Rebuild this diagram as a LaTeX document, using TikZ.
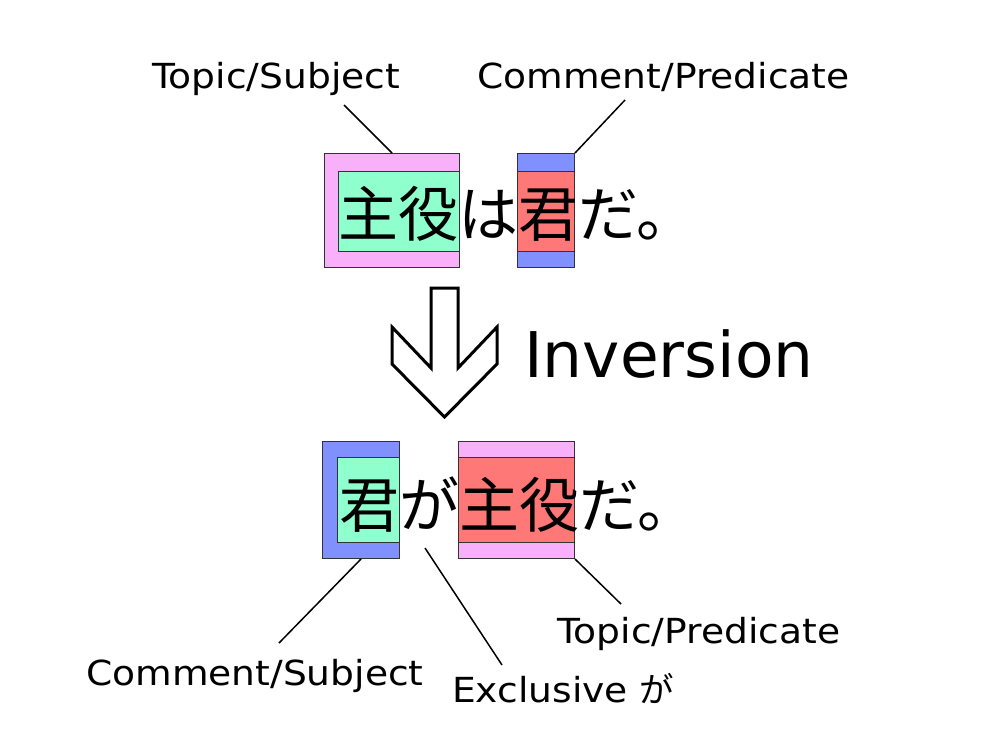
\documentclass[tikz,border=0pt]{standalone}
\usepackage{fontspec}
\setmainfont{DejaVu Sans}
\newfontfamily\jp{Noto Sans CJK JP}
\newfontfamily\lblfont[FakeStretch=1.09]{DejaVu Sans}
\definecolor{pinkc}{RGB}{248,176,250}
\definecolor{mintc}{RGB}{144,255,206}
\definecolor{bluec}{RGB}{128,144,255}
\definecolor{redc}{RGB}{255,120,120}
\newcommand{\labelsize}{\lblfont\fontsize{34.5}{40}\selectfont}
\newcommand{\sentsize}{\fontsize{60}{64}\selectfont}
\begin{document}
\begin{tikzpicture}[x=1pt, y=-1pt,
        box/.style={draw=black!80, line width=1pt, anchor=north west, inner sep=0},
        lbl/.style={anchor=base west, inner sep=0, font=\labelsize},
        sent/.style={anchor=base west, inner sep=0, font=\jp\sentsize},
        conn/.style={line width=1.5pt}]
                \useasboundingbox[fill=white] (0,0) rectangle (1000,750);

                \node[ box, fill=pinkc, minimum width=135pt, minimum height=114pt ] (tsbox) at (324,153) {};
                \node[ box, fill=mintc, minimum width=121pt, minimum height=80pt ] (tsin) at (338,171) {};
                \node[ box, fill=bluec, minimum width=57pt, minimum height=114pt ] (cpbox) at (517,153) {};
                \node[ box, fill=redc, minimum width=57pt, minimum height=80pt ] (cpin) at (517,171) {};

                \node[ box, fill=bluec, minimum width=77pt, minimum height=117pt ] (csbox) at (322,441) {};
                \node[ box, fill=mintc, minimum width=62pt, minimum height=85pt ] (csin) at (337,457) {};
                \node[ box, fill=pinkc, minimum width=116pt, minimum height=117pt ] (tpbox) at (458,441) {};
                \node[ box, fill=redc, minimum width=116pt, minimum height=85pt ] (tpin) at (458,457) {};

                \node[ sent ] (topline) at (338,236) {主役は君だ。};
                \node[ sent ] (botline) at (339,527) {君が主役だ。};

                \draw[ line width=3pt, line join=miter ] (431,288) -- (458,288) -- (458,368) -- (497,327)
                    -- (497,364) -- (444.5,417) -- (392,364) -- (392,327) -- (431,368) -- cycle;
                \node[ anchor=base west, inner sep=0, font=\fontsize{63}{70}\selectfont ] (inv) at (524,377) {Inversion};

                \node[ lbl ] (tslabel) at (152,88) {Topic/Subject};
                \node[ lbl ] (cplabel) at (477,88) {Comment/Predicate};
                \node[ lbl ] (cslabel) at (86,685) {Comment/Subject};
                \node[ lbl ] (tplabel) at (557,643) {Topic/Predicate};
                \node[ lbl ] (exlabel) at (452,702) {Exclusive {\jp が}};

                \coordinate (tsend) at (344,105);
                \coordinate (cpend) at (625,100);
                \coordinate (csend) at (279,643);
                \coordinate (tpend) at (621,604);
                \coordinate (exend) at (502,665);
                \coordinate (ga) at (425,548);

                \draw[ conn ] (tsend) -- (tsbox.north);
                \draw[ conn ] (cpend) -- (cpbox.north east);
                \draw[ conn ] (csend) -- (csbox.south);
                \draw[ conn ] (tpend) -- (tpbox.south east);
                \draw[ conn ] (exend) -- (ga);
            \end{tikzpicture}
\end{document}
